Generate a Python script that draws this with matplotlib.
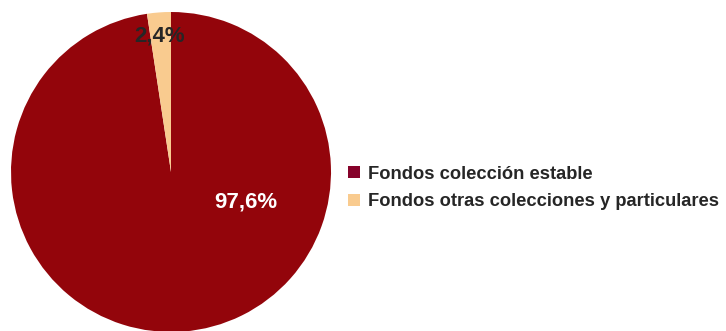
import matplotlib.pyplot as plt
from matplotlib.patches import Patch

plt.rcParams['font.family'] = ['Liberation Sans', 'DejaVu Sans']

categories = ['Fondos colección estable', 'Fondos otras colecciones y particulares']
shares = [97.6, 2.4]
pie_colors = ['#93050b', '#f9cb8f']
legend_colors = ['#86022a', '#f9cb8f']

fig = plt.figure(figsize=(7.26, 3.31), dpi=100)
W, H = 726, 331
cx, cy, r = 171, 331 - 172, 160
ax = fig.add_axes([(cx - r) / W, (cy - r) / H, 2 * r / W, 2 * r / H])

ax.pie(shares, colors=pie_colors, startangle=90, counterclock=False,
       radius=1, wedgeprops=dict(linewidth=0))
ax.set_xlim(-1, 1)
ax.set_ylim(-1, 1)
ax.set_aspect('equal')
ax.axis('off')

def fmt(v):
    return f"{v:.1f}".replace('.', ',') + '%'

ax.text(0.47, -0.185, fmt(shares[0]), color='white', fontsize=16,
        fontweight='bold', ha='center', va='center')
ax.text(-0.07, 0.85, fmt(shares[1]), color='#262626', fontsize=16,
        fontweight='bold', ha='center', va='center')

handles = [Patch(facecolor=c, edgecolor='none') for c in legend_colors]
fig.legend(handles, categories, loc='center left',
           bbox_to_anchor=(331 / W, 143 / H), frameon=False,
           prop=dict(size=13.2, weight='bold'), labelcolor='#262626',
           handlelength=0.66, handleheight=0.66, handletextpad=0.45,
           labelspacing=0.58)

fig.savefig('out.png', dpi=100)
